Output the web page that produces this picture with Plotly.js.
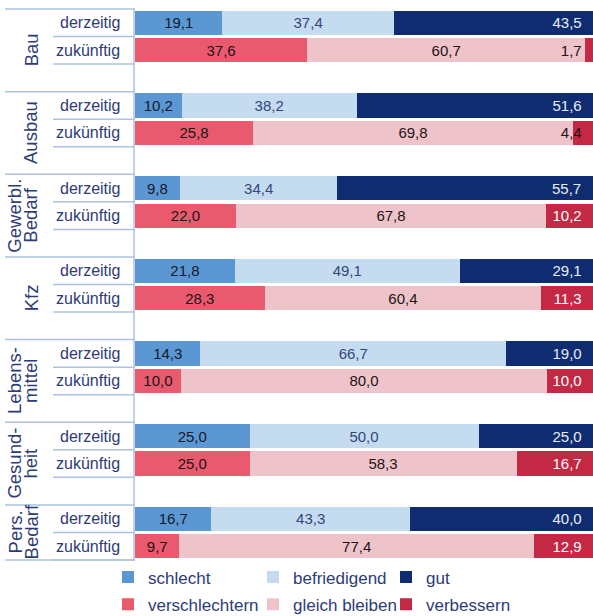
<!DOCTYPE html>
<html><head><meta charset="utf-8">
<script src="https://cdn.plot.ly/plotly-3.0.1.min.js"></script>
<style>html,body{margin:0;padding:0;background:#fff}</style>
</head><body><div id="chart" style="width:593px;height:616px"></div>
<script>
// ---- data ----
const groupLabels = [['Bau'], ['Ausbau'], ['Gewerbl.', 'Bedarf'], ['Kfz'], ['Lebens-', 'mittel'], ['Gesund-', 'heit'], ['Pers.', 'Bedarf']];
const rowLabels = ['derzeitig', 'zukünftig'];
const schlecht       = [19.1, 10.2,  9.8, 21.8, 14.3, 25.0, 16.7];
const befriedigend   = [37.4, 38.2, 34.4, 49.1, 66.7, 50.0, 43.3];
const gut            = [43.5, 51.6, 55.7, 29.1, 19.0, 25.0, 40.0];
const verschlechtern = [37.6, 25.8, 22.0, 28.3, 10.0, 25.0,  9.7];
const gleichBleiben  = [60.7, 69.8, 67.8, 60.4, 80.0, 58.3, 77.4];
const verbessern     = [ 1.7,  4.4, 10.2, 11.3, 10.0, 16.7, 12.9];
const seriesNames = ['schlecht', 'befriedigend', 'gut', 'verschlechtern', 'gleich bleiben', 'verbessern'];

// ---- layout geometry ----
const W = 593, H = 616, L = 135, R = 0, T = 9, B = 56;
const plotW = W - L - R, plotH = H - T - B;
const nSlots = 20;
const FONT = 'Liberation Sans, Arial, sans-serif';
const NAVY = '#2d3c78';
const LINE = '#aec4e2';
const px = v => (v - L) / plotW;                 // pixel x -> paper x
const slotY = s => 1 - (s + 0.5) / nSlots;        // slot -> paper y
const pyToPaper = v => 1 - (v - T) / plotH;       // pixel y -> paper y

const nG = groupLabels.length;
const slotsNow = groupLabels.map((_, g) => 3 * g);
const slotsFut = groupLabels.map((_, g) => 3 * g + 1);

function bar(name, vals, slots, color, txtColor, anchor, legendId) {
  const endPad = anchor === 'end' ? '\u00a0\u00a0' : '';
  return {
    type: 'bar', orientation: 'h', name: name, legendgroup: name,
    x: vals, y: slots, width: 0.88,
    marker: {color: color, line: {width: 0}},
    texttemplate: '%{x:.1f}' + endPad,
    textposition: 'inside', insidetextanchor: anchor, textangle: 0,
    constraintext: 'none',
    insidetextfont: {family: FONT, size: 15, color: txtColor},
    hoverinfo: 'x+name', legend: legendId
  };
}

const data = [
  bar(seriesNames[0], schlecht, slotsNow, '#5b98d3', '#15192b', 'middle', 'legend'),
  bar(seriesNames[1], befriedigend, slotsNow, '#c5dcf0', '#34467c', 'middle', 'legend2'),
  bar(seriesNames[2], gut, slotsNow, '#102c70', '#e6ecf7', 'end', 'legend3'),
  bar(seriesNames[3], verschlechtern, slotsFut, '#ea5a6f', '#1c1416', 'middle', 'legend'),
  bar(seriesNames[4], gleichBleiben, slotsFut, '#efc3ca', '#1c1416', 'middle', 'legend2'),
  bar(seriesNames[5], verbessern, slotsFut, '#c32944',
      verbessern.map(v => v < 5 ? '#1c1416' : '#ffffff'), 'end', 'legend3')
];

// ---- table lines & labels ----
const shapes = [];
const annotations = [];
const lastSlot = 3 * (nG - 1) + 1;
const hline = (s, x0, x1) => shapes.push({type: 'line', xref: 'paper', yref: 'paper',
  x0: px(x0), x1: px(x1), y0: slotY(s + 0.5), y1: slotY(s + 0.5), line: {color: LINE, width: 1.5}});
hline(-1, 5, 135);
groupLabels.forEach((lines, g) => {
  hline(3 * g, 53, 135);
  hline(3 * g + 1, 53, 135);
  const bottom = Math.min(3 * g + 2, lastSlot);
  hline(bottom, 5, 135);
  const mid = ((3 * g - 0.5) + (bottom + 0.5)) / 2;
  lines.forEach((t, i) => {
    annotations.push({text: t, xref: 'paper', yref: 'paper', x: px(31 - (lines.length - 1 - i) * 16),
      y: slotY(mid), xanchor: 'center', yanchor: 'middle', textangle: -90, showarrow: false,
      font: {family: FONT, size: 18.5, color: NAVY}});
  });
  rowLabels.forEach((t, r) => {
    annotations.push({text: t, xref: 'paper', yref: 'paper', x: px(122), y: slotY(3 * g + r),
      xanchor: 'right', yanchor: 'middle', showarrow: false,
      font: {family: FONT, size: 16, color: NAVY}});
  });
});
shapes.push({type: 'line', xref: 'paper', yref: 'paper', x0: px(134), x1: px(134),
  y0: slotY(-0.5), y1: slotY(lastSlot + 0.5), line: {color: LINE, width: 1.5}});

const legendBase = {orientation: 'v', xanchor: 'left', yanchor: 'top', y: pyToPaper(559.5),
  bgcolor: 'rgba(0,0,0,0)', borderwidth: 0, traceorder: 'grouped', tracegroupgap: 2,
  font: {family: FONT, size: 17, color: NAVY}};

const layout = {
  width: W, height: H,
  margin: {l: L, r: R, t: T, b: B, pad: 0, autoexpand: false},
  barmode: 'stack', bargap: 0,
  separators: ',.',
  paper_bgcolor: '#ffffff', plot_bgcolor: '#ffffff',
  font: {family: FONT, color: NAVY},
  xaxis: {range: [0, 100], visible: false, fixedrange: true},
  yaxis: {range: [nSlots - 0.5, -0.5], visible: false, fixedrange: true},
  showlegend: true,
  legend: Object.assign({}, legendBase, {x: px(108)}),
  legend2: Object.assign({}, legendBase, {x: px(253)}),
  legend3: Object.assign({}, legendBase, {x: px(386)}),
  shapes: shapes,
  annotations: annotations
};

Plotly.newPlot('chart', data, layout, {displayModeBar: false, staticPlot: true});
</script>
</body></html>
